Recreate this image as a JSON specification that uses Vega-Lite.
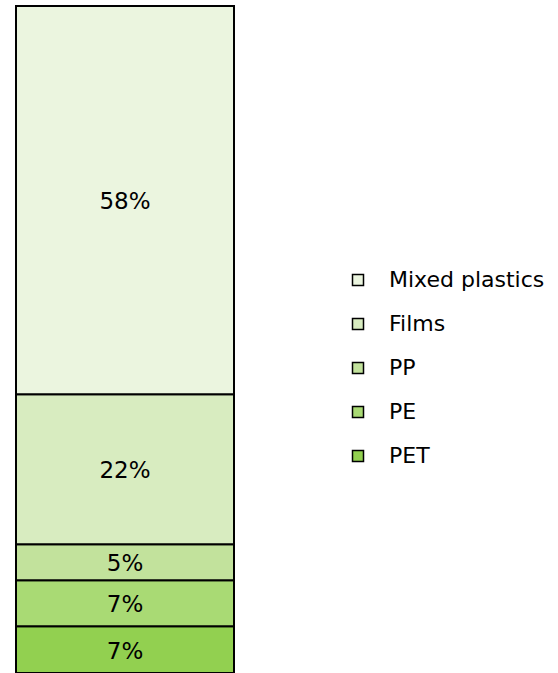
{
  "$schema": "https://vega.github.io/schema/vega-lite/v6.json",
  "autosize": "none",
  "width": 218,
  "height": 667,
  "padding": {"left": 16, "top": 6, "right": 324, "bottom": 0},
  "background": "white",
  "config": {"view": {"stroke": null}, "font": "DejaVu Sans"},
  "data": {
    "values": [
      {"group": "A", "material": "PET", "value": 7.0, "label": "7%", "ord": 1},
      {"group": "A", "material": "PE", "value": 6.9, "label": "7%", "ord": 2},
      {"group": "A", "material": "PP", "value": 5.4, "label": "5%", "ord": 3},
      {"group": "A", "material": "Films", "value": 22.5, "label": "22%", "ord": 4},
      {"group": "A", "material": "Mixed plastics", "value": 58.2, "label": "58%", "ord": 5}
    ]
  },
  "transform": [
    {"stack": "value", "groupby": ["group"], "sort": [{"field": "ord", "order": "ascending"}], "as": ["y0", "y1"]},
    {"calculate": "(datum.y0 + datum.y1) / 2", "as": "ymid"}
  ],
  "encoding": {
    "x": {"field": "group", "type": "nominal", "axis": null, "scale": {"paddingInner": 0, "paddingOuter": 0}}
  },
  "layer": [
    {
      "mark": {"type": "bar", "stroke": "black", "strokeWidth": 2},
      "encoding": {
        "y": {"field": "y0", "type": "quantitative", "axis": null, "scale": {"domain": [0, 100], "nice": false}},
        "y2": {"field": "y1"},
        "color": {
          "field": "material",
          "type": "nominal",
          "scale": {
            "domain": ["Mixed plastics", "Films", "PP", "PE", "PET"],
            "range": ["#EBF5DF", "#D8ECC0", "#C2E29C", "#A9DA74", "#92D050"]
          },
          "legend": {
            "title": null,
            "orient": "none",
            "legendX": 331,
            "legendY": 263,
            "symbolType": "square",
            "symbolSize": 121,
            "symbolStrokeColor": "black",
            "symbolStrokeWidth": 1.5,
            "symbolOpacity": 1,
            "labelFontSize": 22,
            "labelColor": "black",
            "labelOffset": 20,
            "rowPadding": 22,
            "labelLimit": 300,
            "labelFont": "DejaVu Sans"
          }
        }
      }
    },
    {
      "mark": {"type": "text", "fontSize": 23, "color": "black", "baseline": "middle", "dy": 2},
      "encoding": {
        "y": {"field": "ymid", "type": "quantitative"},
        "text": {"field": "label"}
      }
    }
  ]
}
